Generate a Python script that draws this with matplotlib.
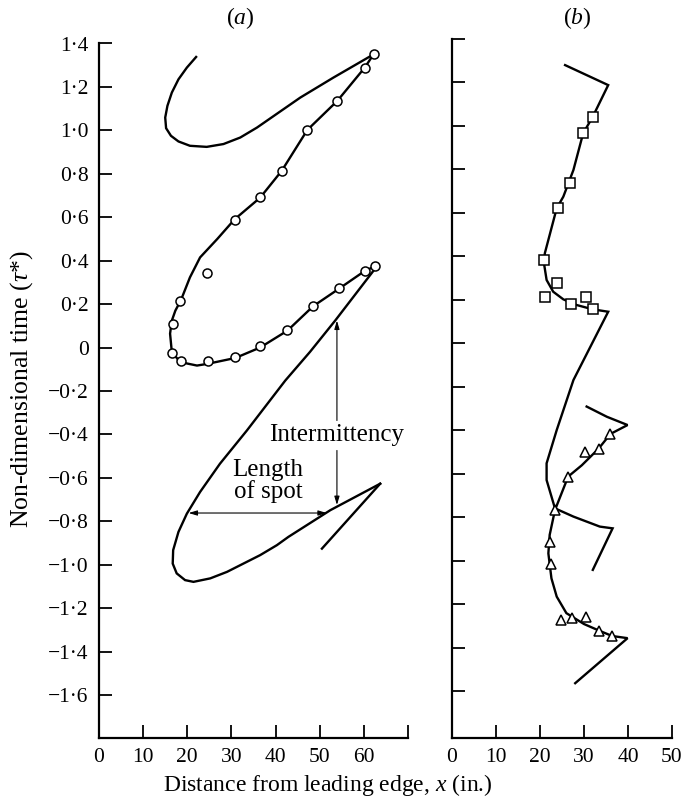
import matplotlib
matplotlib.use("Agg")
import matplotlib.pyplot as plt

plt.rcParams["font.family"] = ["Liberation Serif", "DejaVu Serif"]
plt.rcParams["mathtext.fontset"] = "custom"
plt.rcParams["mathtext.it"] = "Liberation Serif:italic"
plt.rcParams["mathtext.rm"] = "Liberation Serif"

# ---- panel (a): spot boundaries, x (in.) vs tau* ----
a_top_x = [22.0, 19.9, 18.0, 16.5, 15.5, 15.0, 15.2, 16.3, 18.0, 20.6, 24.4, 28.2, 32.0, 35.8,
           38.0, 45.6, 53.1, 62.2]
a_top_t = [1.338, 1.289, 1.235, 1.174, 1.113, 1.059, 1.010, 0.975, 0.949, 0.929, 0.924, 0.937,
           0.967, 1.013, 1.044, 1.151, 1.243, 1.350]

a_mid_x = [62.2, 60.2, 54.0, 47.2, 41.4, 36.5, 30.7, 26.8, 22.9, 20.6, 18.6, 17.3, 16.5, 16.1,
           16.5, 18.4, 22.2, 24.6, 30.9, 36.5, 42.7, 48.5, 54.3, 60.3, 62.6]
a_mid_t = [1.350, 1.289, 1.136, 1.002, 0.814, 0.690, 0.590, 0.500, 0.415, 0.323, 0.220, 0.170,
           0.124, 0.064, -0.021, -0.067, -0.083, -0.075, -0.048, 0.0, 0.078, 0.190, 0.270,
           0.354, 0.374]

a_low_x = [62.8, 53.5, 47.8, 42.2, 33.5, 27.4, 22.9, 19.9, 18.0, 16.8, 16.7, 17.6, 19.5, 21.4,
           25.2, 29.0, 32.7, 36.5, 40.3, 42.9, 52.4, 63.7]
a_low_t = [0.370, 0.124, -0.020, -0.152, -0.382, -0.535, -0.665, -0.765, -0.849, -0.933, -0.995,
           -1.040, -1.071, -1.079, -1.063, -1.033, -0.995, -0.956, -0.910, -0.872, -0.749, -0.627]

a_tail_x = [63.7, 50.5]
a_tail_t = [-0.627, -0.926]

a_circ_x = [62.2, 60.2, 54.0, 47.2, 41.4, 36.5, 30.7, 24.4, 18.4, 16.8, 16.5, 18.6, 24.6, 30.9,
            36.5, 42.7, 48.5, 54.3, 60.3, 62.6]
a_circ_t = [1.350, 1.289, 1.136, 1.002, 0.814, 0.691, 0.588, 0.343, 0.216, 0.109, -0.025, -0.064,
            -0.063, -0.044, 0.005, 0.081, 0.193, 0.274, 0.354, 0.374]

# ---- panel (b) ----
b_line1_x = [25.7, 30.6, 35.5, 32.0, 29.8, 27.6, 25.3, 23.8, 22.3, 21.1, 20.9, 21.5, 23.0, 25.3,
             28.3, 32.0, 35.5, 27.6, 23.8, 21.5, 21.5, 23.4, 27.6, 33.6, 36.5, 32.0]
b_line1_t = [1.280, 1.234, 1.188, 1.043, 0.966, 0.798, 0.675, 0.622, 0.507, 0.415, 0.369, 0.292,
             0.238, 0.203, 0.177, 0.157, 0.146, -0.168, -0.398, -0.551, -0.628, -0.758, -0.796,
             -0.842, -0.850, -1.041]

b_line2_x = [30.6, 35.2, 39.9, 36.0, 33.3, 29.5, 26.4, 23.4, 22.2, 21.9, 22.6, 23.8, 26.0, 30.0,
             33.4, 36.4, 39.9, 28.0]
b_line2_t = [-0.290, -0.337, -0.375, -0.416, -0.484, -0.560, -0.612, -0.766, -0.880, -0.965,
             -1.080, -1.164, -1.240, -1.290, -1.320, -1.345, -1.355, -1.562]

b_sq_x = [32.0, 29.8, 26.8, 24.0, 20.9, 23.8, 21.1, 27.0, 30.4, 32.0]
b_sq_t = [1.043, 0.966, 0.737, 0.622, 0.384, 0.277, 0.212, 0.182, 0.215, 0.157]

b_tri_x = [36.0, 33.3, 30.2, 26.4, 23.4, 22.3, 22.5, 24.8, 27.2, 30.4, 33.4, 36.4]
b_tri_t = [-0.416, -0.484, -0.500, -0.612, -0.766, -0.911, -1.014, -1.271, -1.264, -1.259,
           -1.320, -1.345]

y_ticks = [1.4, 1.2, 1.0, 0.8, 0.6, 0.4, 0.2, 0.0, -0.2, -0.4, -0.6, -0.8, -1.0, -1.2, -1.4, -1.6]
y_labels = ["1·4", "1·2", "1·0", "0·8", "0·6", "0·4", "0·2", "0", "−0·2", "−0·4", "−0·6",
            "−0·8", "−1·0", "−1·2", "−1·4", "−1·6"]
xa_ticks = [0, 10, 20, 30, 40, 50, 60, 70]
xa_labels = ["0", "10", "20", "30", "40", "50", "60", ""]
xb_ticks = [0, 10, 20, 30, 40, 50]
xb_labels = ["0", "10", "20", "30", "40", "50"]

W, H = 685, 805
fig = plt.figure(figsize=(W / 100, H / 100), dpi=100)
ax_a = fig.add_axes([99 / W, 67 / H, 309 / W, 694.5 / H])
ax_b = fig.add_axes([452 / W, 67 / H, 220 / W, 699 / H])

line_kw = dict(color="black", lw=1.7, solid_joinstyle="miter")
mk_kw = dict(ls="none", mfc="white", mec="black", mew=1.1, ms=6.5)

ax_a.plot(a_top_x, a_top_t, **line_kw)
ax_a.plot(a_mid_x, a_mid_t, **line_kw)
ax_a.plot(a_low_x, a_low_t, **line_kw)
ax_a.plot(a_tail_x, a_tail_t, **line_kw)
ax_a.plot(a_circ_x, a_circ_t, marker="o", **mk_kw)

ax_b.plot(b_line1_x, b_line1_t, **line_kw)
ax_b.plot(b_line2_x, b_line2_t, **line_kw)
ax_b.plot(b_sq_x, b_sq_t, marker="s", **mk_kw)
ax_b.plot(b_tri_x, b_tri_t, marker="^", **mk_kw)

# annotations in (a)
arr = dict(arrowstyle="-|>,head_length=0.5,head_width=0.15", lw=0.8, color="black",
           shrinkA=0, shrinkB=0)
ax_a.annotate("", xy=(53.9, 0.124), xytext=(53.9, -0.336), arrowprops=arr)
ax_a.annotate("", xy=(53.9, -0.725), xytext=(53.9, -0.474), arrowprops=arr)
ax_a.text(53.8, -0.405, "Intermittency", ha="center", va="center", fontsize=18)
ax_a.annotate("", xy=(20.3, -0.762), xytext=(51.6, -0.762),
              arrowprops=dict(arrowstyle="<|-|>,head_length=0.5,head_width=0.15", lw=0.8,
                              color="black", shrinkA=0, shrinkB=0))
ax_a.text(38.3, -0.615, "Length\nof spot", ha="center", va="center", fontsize=18,
          linespacing=0.9)

ax_a.set_xlim(0, 70)
ax_a.set_ylim(-1.798, 1.4)
ax_b.set_xlim(0, 50)
ax_b.set_ylim(-1.814, 1.4)

ax_a.set_xticks(xa_ticks)
ax_a.set_xticklabels(xa_labels)
ax_a.set_yticks(y_ticks)
ax_a.set_yticklabels(y_labels)
ax_b.set_xticks(xb_ticks)
ax_b.set_xticklabels(xb_labels)
ax_b.set_yticks(y_ticks)
ax_b.set_yticklabels([])

for ax in (ax_a, ax_b):
    for s in ("top", "right"):
        ax.spines[s].set_visible(False)
    for s in ("left", "bottom"):
        ax.spines[s].set_linewidth(1.6)
    ax.tick_params(direction="in", length=9.5, width=1.3, labelsize=15.5)
    ax.tick_params(axis="y", pad=7.5)
    ax.tick_params(axis="x", pad=7.5)
    ax.patch.set_alpha(0)

fig.text(240 / W, 1 - 18 / H, "($a$)", ha="center", va="center", fontsize=17)
fig.text(577 / W, 1 - 18 / H, "($b$)", ha="center", va="center", fontsize=17)
fig.text(328 / W, 1 - 785 / H, "Distance from leading edge, $x$ (in.)", ha="center",
         va="center", fontsize=17)
fig.text(22 / W, 1 - 389 / H, "Non-dimensional time ($\\tau$*)", ha="center", va="center",
         rotation=90, fontsize=18.5)

fig.savefig("out.png", dpi=100)
plt.close(fig)
